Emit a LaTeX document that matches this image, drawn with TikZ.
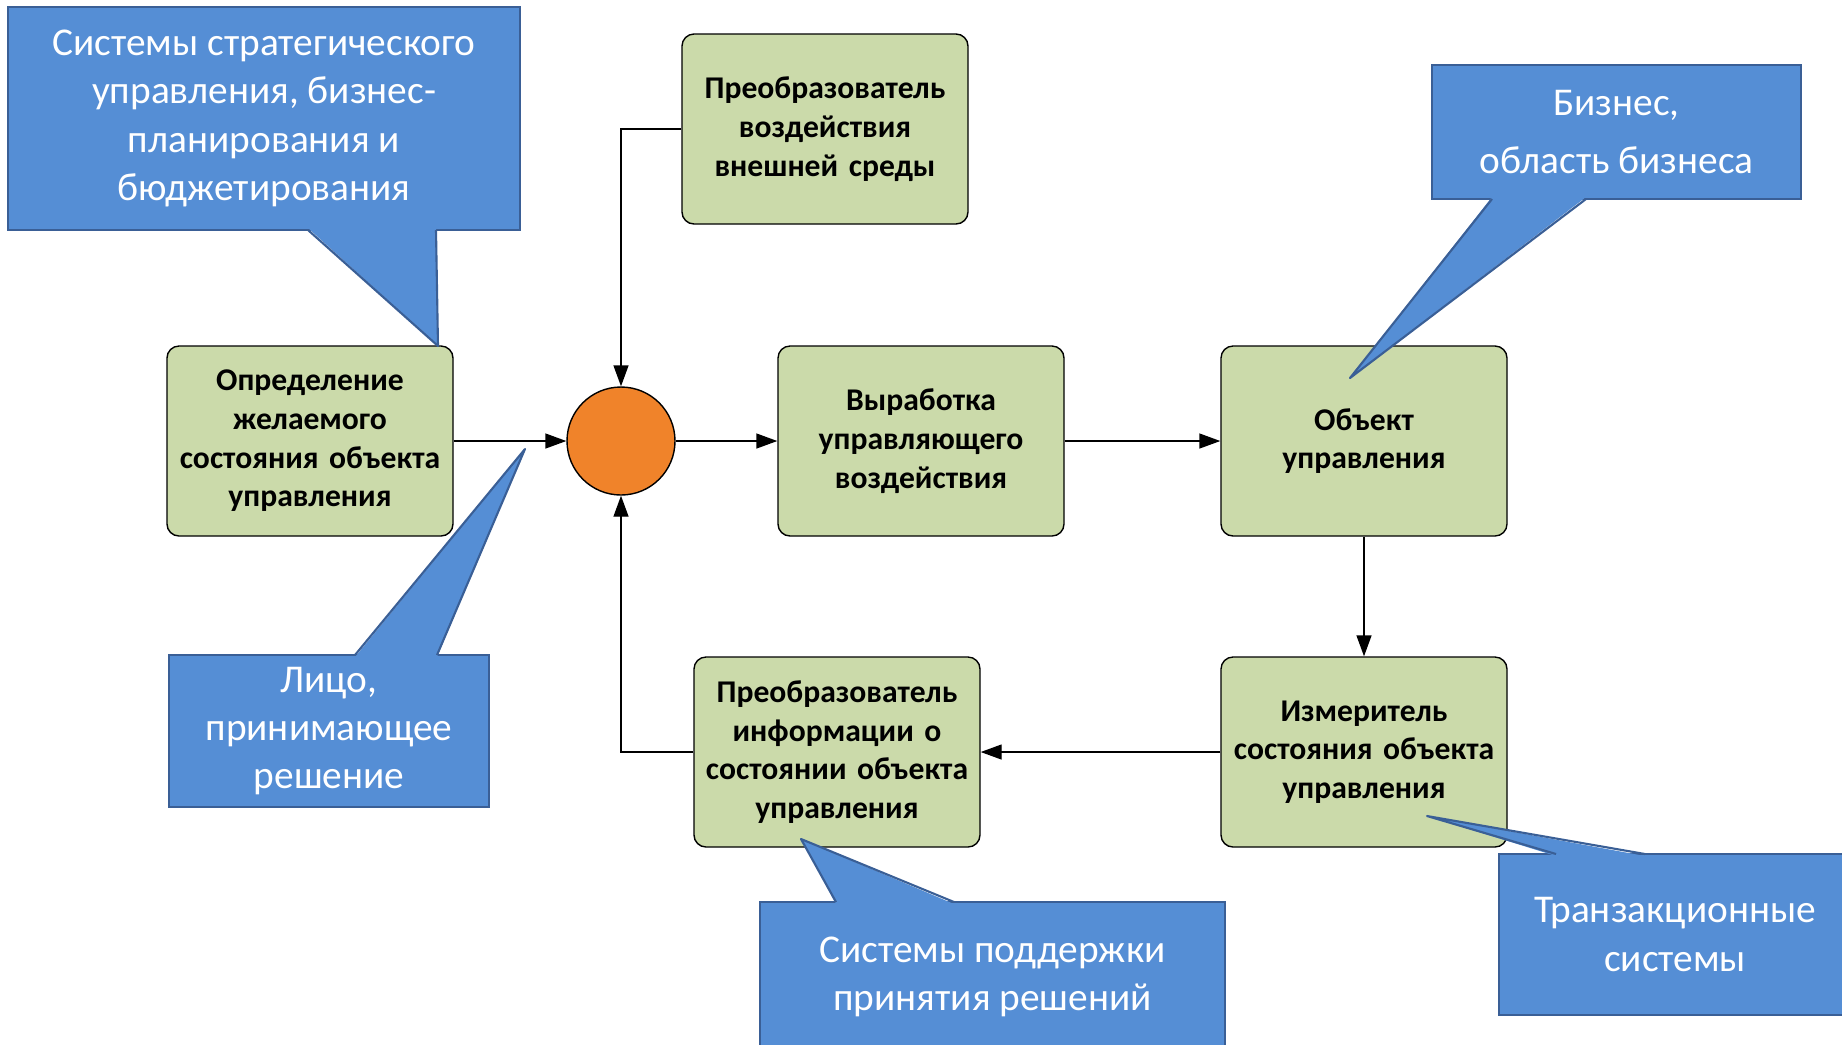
\documentclass[tikz,border=0pt]{standalone}
\usepackage{fontspec}
\setmainfont{Carlito}
\usetikzlibrary{arrows.meta}

\definecolor{boxgreen}{RGB}{203,218,170}
\definecolor{sumorange}{RGB}{240,131,42}
\definecolor{callblue}{RGB}{85,142,213}
\definecolor{callline}{RGB}{58,95,150}

\tikzset{
  block/.style={draw, fill=boxgreen, rounded corners=0.12cm, minimum width=2.86cm,
    minimum height=1.90cm, align=center, text width=2.76cm, inner xsep=0.05cm,
    font=\bfseries\fontsize{9}{11}\selectfont},
  sum/.style={draw, circle, fill=sumorange, minimum size=1.08cm},
  callbody/.style={draw=callline, fill=callblue, line width=0.6pt, text=white,
    align=center, font=\fontsize{11.2}{13.7}\selectfont, inner sep=0pt},
  callfill/.style={fill=callblue},
  callside/.style={draw=callline, line width=0.6pt, line join=round}
}

\begin{document}
\begin{tikzpicture}[>={Triangle[length=0.21cm,width=0.15cm]}, line width=0.4pt]
  \clip (0,0) rectangle (18.42,-10.44);

  % Blocks
  \node[block] (opred) at (3.10,-4.41) {Определение\\желаемого\\состояния объекта\\управления};
  \node[sum] (sum) at (6.21,-4.41) {};
  \node[block] (vozd) at (8.25,-1.29) {Преобразователь\\воздействия\\внешней среды};
  \node[block] (vyrab) at (9.21,-4.41) {Выработка\\управляющего\\воздействия};
  \node[block] (obj) at (13.64,-4.41) {Объект\\управления};
  \node[block] (izm) at (13.64,-7.52) {Измеритель\\состояния объекта\\управления};
  \node[block] (info) at (8.37,-7.52) {Преобразователь\\информации о\\состоянии объекта\\управления};

  % Arrows
  \draw[->] (opred) -- (sum);
  \draw[->] (sum) -- (vyrab);
  \draw[->] (vyrab) -- (obj);
  \draw[->] (obj) -- (izm);
  \draw[->] (izm) -- (info);
  \draw[->] (info.west) -| (sum.south);
  \draw[->] (vozd.west) -| (sum.north);

  % Callouts
  \node[callbody, minimum width=5.12cm, minimum height=2.23cm] (strat) at (2.64,-1.185)
    {Системы стратегического\\управления, бизнес-\\планирования и\\бюджетирования};
  \fill[callfill] (3.08,-2.28) -- (4.38,-3.46) -- (4.36,-2.28) -- cycle;
  \draw[callside] (3.08,-2.30) -- (4.38,-3.46) -- (4.36,-2.30);

  \node[callbody, minimum width=3.69cm, minimum height=1.34cm,
    font=\fontsize{11.2}{16.4}\selectfont] (biz) at (16.165,-1.32)
    {Бизнес,\\область бизнеса};
  \fill[callfill] (14.92,-1.97) -- (13.50,-3.78) -- (15.86,-1.97) -- cycle;
  \draw[callside] (14.92,-1.99) -- (13.50,-3.78) -- (15.86,-1.99);

  \node[callbody, minimum width=3.20cm, minimum height=1.52cm] (litso) at (3.29,-7.31)
    {Лицо,\\принимающее\\решение};
  \fill[callfill] (3.55,-6.57) -- (5.25,-4.49) -- (4.37,-6.57) -- cycle;
  \draw[callside] (3.55,-6.55) -- (5.25,-4.49) -- (4.37,-6.55);

  \node[callbody, minimum width=4.65cm, minimum height=1.50cm] (sppr) at (9.925,-9.77)
    {Системы поддержки\\принятия решений};
  \fill[callfill] (8.36,-9.04) -- (8.01,-8.39) -- (9.54,-9.04) -- cycle;
  \draw[callside] (8.36,-9.02) -- (8.01,-8.39) -- (9.54,-9.02);

  \node[callbody, minimum width=3.52cm, minimum height=1.61cm] (trans) at (16.75,-9.345)
    {Транзакционные\\системы};
  \fill[callfill] (15.56,-8.56) -- (14.27,-8.16) -- (16.45,-8.56) -- cycle;
  \draw[callside] (15.56,-8.54) -- (14.27,-8.16) -- (16.45,-8.54);
\end{tikzpicture}
\end{document}
